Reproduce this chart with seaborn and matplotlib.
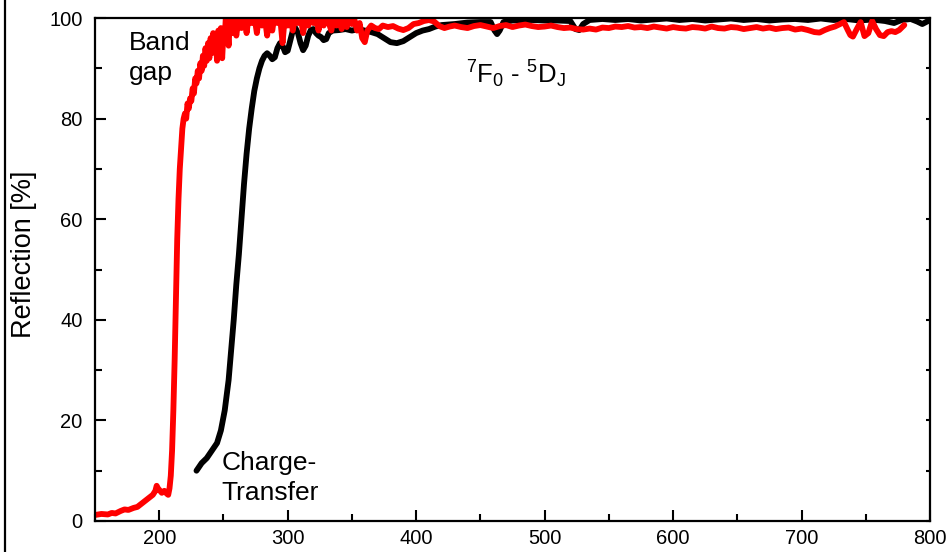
import numpy as np
import pandas as pd
import matplotlib
matplotlib.use("Agg")
import matplotlib.pyplot as plt
from matplotlib.lines import Line2D
from matplotlib.ticker import MultipleLocator
import seaborn as sns

# ---- data ----
red_wl = [150, 155, 160, 163, 166, 170, 173, 176, 180, 183, 186, 189, 192, 195, 197, 198, 199, 200, 202, 204,
          206, 207, 208, 209, 210, 211, 212, 213, 214, 215, 216, 217, 218, 219, 220, 221, 222, 223, 224, 225,
          226, 227, 228, 229, 230, 231, 232, 233, 234, 235, 236, 237, 238, 239, 240, 241, 242, 243, 244, 245,
          246, 247, 248, 249, 250, 251, 252, 253, 254, 255, 256, 257, 258, 259, 260, 262, 264, 266, 268, 270,
          272, 274, 276, 278, 280, 282, 284, 286, 288, 290, 292, 294, 296, 298, 300, 302, 304, 306, 308, 310,
          312, 314, 316, 318, 320, 322, 324, 326, 328, 330, 332, 334, 336, 338, 340, 342, 344, 346, 348, 350,
          352, 354, 356, 358, 360, 362, 365, 368, 371, 374, 378, 382, 386, 390, 394, 398, 402, 406, 410, 414,
          418, 422, 426, 430, 435, 440, 445, 450, 455, 460, 465, 470, 475, 480, 485, 490, 495, 500, 505, 510,
          515, 520, 525, 530, 535, 540, 545, 550, 555, 560, 565, 570, 575, 580, 585, 590, 595, 600, 605, 610,
          615, 620, 625, 630, 635, 640, 645, 650, 655, 660, 665, 670, 675, 680, 685, 690, 695, 700, 705, 710,
          714, 718, 722, 726, 730, 733, 736, 738, 740, 743, 746, 749, 752, 755, 758, 761, 764, 767, 770, 773,
          776, 780]
red_refl = [1.2, 1.4, 1.3, 1.6, 1.5, 2.0, 2.3, 2.2, 2.6, 2.8, 3.4, 4.0, 4.6, 5.2, 6.0, 7.0, 6.5, 6.2, 5.6, 6.0,
            5.4, 5.2, 6.5, 9, 14, 22, 32, 44, 56, 64, 70, 74, 78, 80, 81, 80, 83, 82, 84, 83.5,
            86, 85, 88, 87, 89.5, 88, 91, 89.5, 92.5, 90.5, 94, 91.5, 95, 92, 96, 93, 97, 94, 96.5, 91.5,
            97.5, 93, 98, 92, 97, 96, 101, 98, 94.5, 99.5, 100.5, 97, 101, 98.5, 96.5, 100.5, 98, 101, 97, 101,
            99, 100.5, 97, 101, 98.5, 100.5, 96.5, 100, 97.5, 101, 99, 100.5, 95, 101, 98.5, 100, 97.5, 101, 99, 100.5,
            97, 100, 98.5, 101, 99, 100.5, 97.5, 100, 98.5, 101, 99, 97.5, 100.5, 98.5, 100, 97.8, 99.5, 98.2, 100, 98.8,
            99.6, 97.5, 99, 96, 95.2, 97.5, 98.5, 98, 97.8, 98.5, 98.2, 98.4, 97.9, 97.6, 98.0, 98.8, 99.0, 99.4, 99.6, 99.3,
            98.4, 98.0, 98.3, 98.5, 98.2, 98.0, 98.4, 98.6, 98.3, 98.0, 98.4, 98.6, 98.2, 98.5, 98.7, 98.4, 98.2, 98.3, 98.5, 98.2,
            98.0, 98.1, 97.8, 97.7, 97.9, 97.7, 98.1, 98.0, 98.3, 98.2, 98.4, 98.1, 98.2, 98.0, 98.3, 98.1, 97.9, 98.2, 98.0, 97.9,
            98.2, 98.1, 97.9, 98.3, 98.0, 97.9, 98.2, 98.1, 97.8, 98.0, 98.2, 97.9, 98.1, 97.8, 98.0, 98.1, 97.7, 97.9, 97.6, 97.2,
            97.1, 97.6, 98.0, 98.3, 98.8, 99.2, 97.6, 96.6, 96.3, 97.8, 99.2, 96.4, 97.0, 99.4, 97.8, 96.6, 96.4, 97.2, 97.4, 97.2,
            97.6, 98.6]

black_wl = [229, 233, 237, 241, 245, 248, 251, 254, 256, 258, 260, 262, 264, 266, 268, 270, 272, 274, 276, 278,
            280, 282, 284, 286, 288, 290, 292, 294, 296, 298, 300, 302, 304, 306, 308, 310, 312, 314, 316, 318,
            320, 322, 324, 326, 328, 330, 332, 335, 340, 345, 350, 355, 360, 365, 370, 375, 380, 385, 390, 395,
            400, 405, 410, 415, 420, 430, 440, 450, 458, 461, 463, 465, 468, 475, 490, 500, 510, 520, 524, 527,
            530, 535, 545, 555, 565, 575, 585, 595, 605, 615, 625, 635, 645, 655, 665, 675, 685, 695, 705, 715,
            725, 735, 745, 755, 765, 772, 778, 785, 790, 794, 797, 800]
black_refl = [10, 11.5, 12.5, 14, 15.5, 18, 22, 28, 34, 40, 47, 53, 60, 67, 73, 78, 82, 85.5, 88, 90,
              91.5, 92.5, 93, 92.5, 91.8, 92.2, 94, 95, 94.5, 93.2, 93.5, 95.5, 97.5, 98, 97, 95, 93.6, 94.5, 96.5, 97.6,
              97.8, 97, 96.5, 96.2, 95.6, 95.8, 97, 97.5, 97.6, 97.8, 97.5, 97.8, 97.5, 97.2, 96.8, 96, 95.2, 95, 95.4, 96.2,
              97, 97.5, 97.8, 98.3, 98.6, 98.8, 99.1, 99.2, 99.2, 97.5, 96.8, 97.5, 99.2, 99.5, 99.6, 99.5, 99.5, 99.4, 97.8, 97.6,
              98.8, 99.6, 99.8, 99.6, 99.8, 99.5, 99.7, 99.9, 99.6, 99.8, 99.5, 99.7, 99.9, 99.6, 99.8, 99.5, 99.7, 99.8, 99.6, 99.9,
              99.6, 99.8, 99.5, 99.7, 99.4, 99.0, 99.6, 99.8, 99.3, 98.8, 99.2, 99.6]

x_major = [200, 300, 400, 500, 600, 700, 800]
y_major = [0, 20, 40, 60, 80, 100]

# ---- style ----
sns.set_style("ticks")
plt.rcParams['font.family'] = ['Liberation Sans', 'DejaVu Sans']
plt.rcParams['mathtext.fontset'] = 'custom'
plt.rcParams['mathtext.rm'] = 'Liberation Sans'
plt.rcParams['mathtext.it'] = 'Liberation Sans:italic'
plt.rcParams['text.color'] = 'black'
plt.rcParams['axes.labelcolor'] = 'black'
plt.rcParams['xtick.color'] = 'black'
plt.rcParams['ytick.color'] = 'black'

fig = plt.figure(figsize=(9.48, 5.52), dpi=100)
ax = fig.add_axes([95/948, 31/552, 835/948, 503/552])

df_black = pd.DataFrame({"wl": black_wl, "refl": black_refl})
df_red = pd.DataFrame({"wl": red_wl, "refl": red_refl})
sns.lineplot(data=df_black, x="wl", y="refl", ax=ax, color="black", lw=4.2,
             estimator=None, sort=False, solid_joinstyle="round", solid_capstyle="round")
sns.lineplot(data=df_red, x="wl", y="refl", ax=ax, color="#ff0000", lw=4.2,
             estimator=None, sort=False, solid_joinstyle="round", solid_capstyle="round")

ax.set_xlim(150, 800)
ax.set_ylim(0, 100)
ax.set_xticks(x_major)
ax.set_yticks(y_major)
ax.xaxis.set_minor_locator(MultipleLocator(50))
ax.yaxis.set_minor_locator(MultipleLocator(10))
ax.set_xlabel("")
ax.set_ylabel("Reflection [%]", fontsize=19.5, color="black")
ax.yaxis.set_label_coords(-0.069, 0.53)

for s in ["left", "bottom", "right", "top"]:
    ax.spines[s].set_visible(True)
    ax.spines[s].set_linewidth(1.6)
    ax.spines[s].set_color("black")

ax.tick_params(axis="both", which="major", direction="in", length=8, width=1.5,
               labelsize=14.5, colors="black", labelcolor="black")
ax.tick_params(axis="both", which="minor", direction="in", length=5, width=1.5)
ax.tick_params(axis="x", which="major", pad=6)
ax.tick_params(axis="y", which="major", pad=9)
ax.tick_params(axis="y", which="both", right=True, labelright=False)

# make right ticks small
for t in ax.yaxis.get_major_ticks() + ax.yaxis.get_minor_ticks():
    t.tick2line.set_markersize(3)

# annotations (baselines placed separately)
ax.text(176.5, 93.6, "Band", fontsize=19, va="baseline", ha="left", color="black")
ax.text(176.5, 87.6, "gap", fontsize=19, va="baseline", ha="left", color="black")
ax.text(248.6, 10.1, "Charge-", fontsize=19, va="baseline", ha="left", color="black")
ax.text(248.6, 4.2, "Transfer", fontsize=19, va="baseline", ha="left", color="black")
ax.text(438.5, 86.9, r"$^{7}\mathrm{F}_{0}$ - $^{5}\mathrm{D}_{\mathrm{J}}$", fontsize=18.5,
        va="baseline", ha="left", color="black")

fig.add_artist(Line2D([5/948, 5/948], [0, 1], transform=fig.transFigure, color="black", lw=1.6))

fig.savefig("out.png", dpi=100)
